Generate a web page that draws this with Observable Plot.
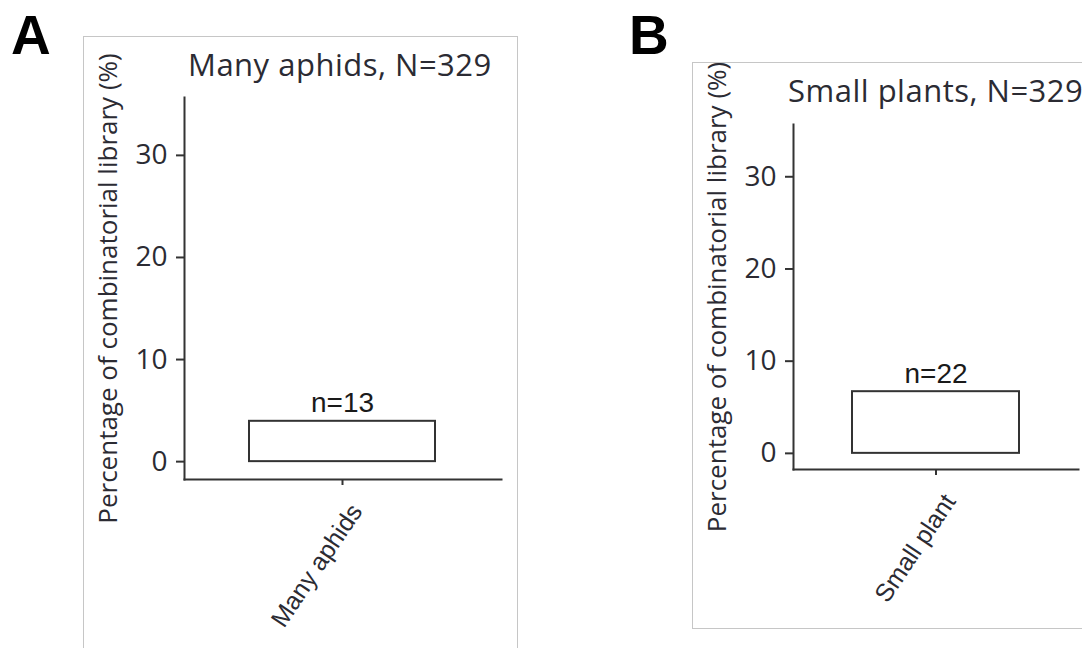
<!DOCTYPE html>
<html>
<head>
<meta charset="utf-8">
<script src="https://cdn.jsdelivr.net/npm/d3@7"></script>
<script src="https://cdn.jsdelivr.net/npm/@observablehq/plot@0.6"></script>
<style>
  html, body { margin: 0; padding: 0; background: #fff; }
  #page { position: relative; width: 1082px; height: 648px; overflow: hidden; background: #fff; }
  .panel { position: absolute; box-sizing: border-box; border: 1px solid #c6c6c6; overflow: hidden; background: #fff; }
  .panel svg { position: absolute; left: 0; top: 0; }
  .letter { position: absolute; font-family: "Liberation Sans", Arial, sans-serif; font-weight: bold; font-size: 55px; line-height: 1; color: #000; }
  .title { position: absolute; font-family: "Open Sans", sans-serif; font-size: 31px; letter-spacing: 0.5px; line-height: 1; color: #2b2b33; white-space: nowrap; }
</style>
</head>
<body>
<div id="page"></div>
<script>
// ---- data ----
const panelLetters = ["A", "B"];
const panelTitles = ["Many aphids, N=329", "Small plants, N=329"];
const categories = ["Many aphids", "Small plant"];
const percents = [3.95, 6.69];   // % of combinatorial library
const counts = [13, 22];         // n per bar
const yTicks = [0, 10, 20, 30];
const yDomain = [-1.75, 35.67];
const yLabel = "Percentage of combinatorial library (%)";

// ---- layout ----
const layouts = [
  { letter: {left: 11, top: 8}, box: {left: 83, top: 36, width: 435, height: 640},
    title: {left: 188, top: 49},
    plot: {width: 432, height: 600, marginLeft: 100, marginRight: 15, marginTop: 60, marginBottom: 158} },
  { letter: {left: 629, top: 8}, box: {left: 692, top: 62, width: 420, height: 567},
    title: {left: 788, top: 75},
    plot: {width: 400, height: 560, marginLeft: 100, marginRight: 15, marginTop: 61, marginBottom: 154} }
];

const page = document.getElementById("page");
const ink = "#333";
const textInk = "#2b2b33";

layouts.forEach((L, i) => {
  const letter = document.createElement("div");
  letter.className = "letter";
  letter.style.left = L.letter.left + "px";
  letter.style.top = L.letter.top + "px";
  letter.textContent = panelLetters[i];
  page.appendChild(letter);

  const box = document.createElement("div");
  box.className = "panel";
  Object.assign(box.style, {left: L.box.left + "px", top: L.box.top + "px", width: L.box.width + "px", height: L.box.height + "px"});
  page.appendChild(box);

  const data = [{category: categories[i], percent: percents[i], n: counts[i]}];

  const chart = Plot.plot({
    ...L.plot,
    style: {fontFamily: "Open Sans, sans-serif", color: textInk, background: "transparent", overflow: "visible"},
    x: {type: "band", domain: [categories[i]], paddingInner: 0.3, paddingOuter: 0.245, label: null},
    y: {domain: yDomain, label: null},
    marks: [
      Plot.barY(data, {x: "category", y: "percent", fill: "white", stroke: ink, strokeWidth: 2}),
      Plot.text(data, {x: "category", y: "percent", text: d => "n=" + d.n, lineAnchor: "bottom", dy: -9,
        fontFamily: "Liberation Sans, Arial, sans-serif", fontSize: 28, fill: "#1a1a1a"}),
      Plot.axisY(yTicks, {tickSize: 8, tickPadding: 9, strokeWidth: 2, stroke: ink, fontSize: 28, label: null,
        fontFamily: "Open Sans, sans-serif", fill: textInk}),
      Plot.text([yLabel], {frameAnchor: "left", rotate: -90, textAnchor: "middle", lineAnchor: "top", dx: -86,
        fontSize: 26, fontFamily: "Open Sans, sans-serif", fill: textInk}),
      Plot.axisX({tickSize: 6, strokeWidth: 2, stroke: ink, tickFormat: () => "", label: null}),
      Plot.text(data, {x: "category", frameAnchor: "bottom", text: "category", rotate: -56,
        textAnchor: "end", lineAnchor: "top", dx: 6, dy: 22,
        fontFamily: "Liberation Sans, Arial, sans-serif", fontSize: 25, fill: textInk}),
      Plot.frame({anchor: "left", stroke: ink, strokeWidth: 2}),
      Plot.frame({anchor: "bottom", stroke: ink, strokeWidth: 2})
    ]
  });
  box.appendChild(chart);

  const title = document.createElement("div");
  title.className = "title";
  title.style.left = L.title.left + "px";
  title.style.top = L.title.top + "px";
  title.textContent = panelTitles[i];
  page.appendChild(title);
});
</script>
</body>
</html>
